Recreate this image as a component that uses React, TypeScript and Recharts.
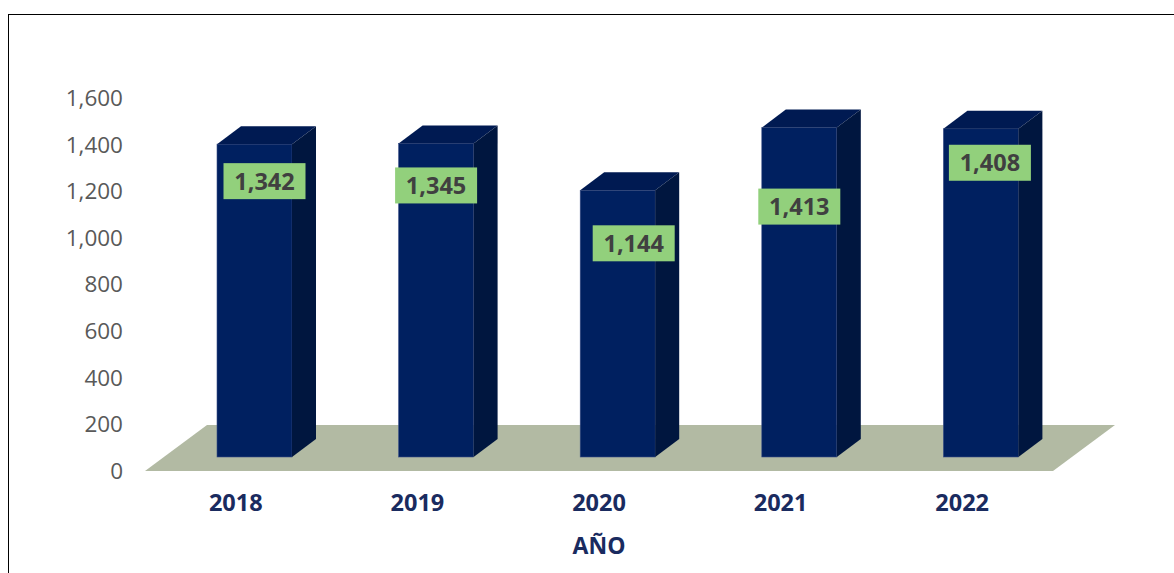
import { BarChart, Bar, XAxis, YAxis, ReferenceArea } from 'recharts';

const years = ['2018', '2019', '2020', '2021', '2022'];
const totals = [1342, 1345, 1144, 1413, 1408];
const yTicks = [0, 200, 400, 600, 800, 1000, 1200, 1400, 1600];

// hand-placed data label offsets (px) from the top-centre of each bar's front face
const labelNudge = [
  [10, 37],
  [0, 42],
  [16, 53],
  [0, 79],
  [9, 34],
];

const chartData = years.map((year, i) => ({ year, value: totals[i] }));

const fmt = (v: number) => v.toLocaleString('en-US');

// 3D look: front face pushed back into the floor, plus depth offsets
const SHIFT_X = 19;
const SHIFT_Y = -14;
const DEPTH_X = 24;
const DEPTH_Y = -18;

function Bar3D(props: any) {
  const { x, y, width, height, index, value } = props;
  const fx = x + SHIFT_X;
  const fy = y + SHIFT_Y;
  const w = width;
  const h = height;
  const [ndx, ndy] = labelNudge[index] || [0, 40];
  const cx = fx + w / 2 + ndx;
  const cy = fy + ndy;
  const v = Array.isArray(value) ? value[1] : value;
  return (
    <g>
      <rect x={fx} y={fy} width={w} height={h} fill="#002060" stroke="#3a4f86" strokeWidth={0.6} />
      <polygon
        points={`${fx},${fy} ${fx + DEPTH_X},${fy + DEPTH_Y} ${fx + w + DEPTH_X},${fy + DEPTH_Y} ${fx + w},${fy}`}
        fill="#001a52"
      />
      <polygon
        points={`${fx + w},${fy} ${fx + w + DEPTH_X},${fy + DEPTH_Y} ${fx + w + DEPTH_X},${fy + h + DEPTH_Y} ${fx + w},${fy + h}`}
        fill="#00163f"
      />
      <rect x={cx - 41} y={cy - 18} width={82} height={36} fill="#92d07c" />
      <text
        x={cx}
        y={cy}
        dy="0.36em"
        textAnchor="middle"
        fill="#404040"
        fontFamily="'Open Sans', sans-serif"
        fontWeight="bold"
        fontSize={23.5}
      >
        {fmt(v)}
      </text>
    </g>
  );
}

function Floor(props: any) {
  const { x, y, width, height } = props;
  const b = y + height;
  return (
    <polygon
      points={`${x},${b} ${x + width},${b} ${x + width + 62},${b - 46} ${x + 62},${b - 46}`}
      fill="#b2baa3"
    />
  );
}

export default function App() {
  return (
    <div>
      <div
        style={{
          position: 'absolute',
          left: 8,
          top: 14,
          width: 1166,
          height: 559,
          boxSizing: 'border-box',
          borderLeft: '1px solid #000',
          borderTop: '1px solid #000',
        }}
      />
      <div style={{ position: 'absolute', left: 0, top: 0 }}>
        <BarChart
          width={1174}
          height={573}
          data={chartData}
          margin={{ top: 98, right: 121, bottom: 42, left: 0 }}
        >
          <ReferenceArea y1={0} y2={200} ifOverflow="visible" shape={Floor} zIndex={-10} />
          <XAxis
            dataKey="year"
            height={60}
            axisLine={false}
            tickLine={false}
            tickSize={0}
            tickMargin={23}
            tick={{ fill: '#1a2b5f', fontSize: 23.5, fontWeight: 'bold', fontFamily: "'Open Sans', sans-serif" }}
            label={{
              value: 'AÑO',
              position: 'bottom',
              offset: 7,
              fill: '#1a2b5f',
              fontSize: 23,
              fontWeight: 'bold',
              fontFamily: "'Open Sans', sans-serif",
            }}
          />
          <YAxis
            width={145}
            domain={[0, 1600]}
            ticks={yTicks}
            tickFormatter={fmt}
            axisLine={false}
            tickLine={false}
            tickSize={0}
            tickMargin={22}
            tick={{ fill: '#595959', fontSize: 22.5, fontFamily: "'Open Sans', sans-serif" }}
          />
          <Bar dataKey="value" barSize={75} shape={Bar3D} isAnimationActive={false} />
        </BarChart>
      </div>
    </div>
  );
}
